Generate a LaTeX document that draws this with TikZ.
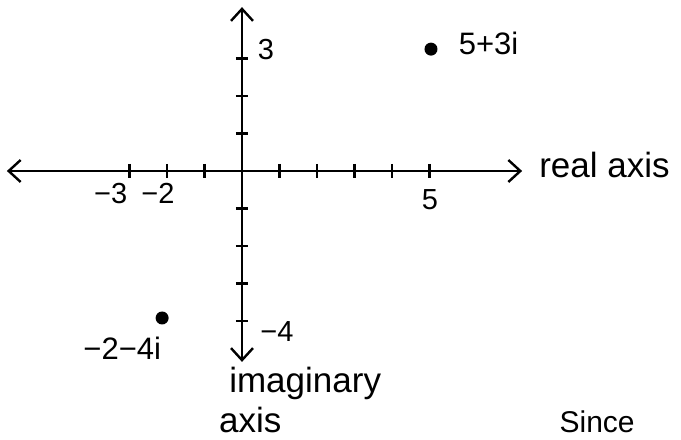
\documentclass[tikz,border=0pt]{standalone}
\usepackage{fontspec}
\setmainfont{Liberation Sans}
\usetikzlibrary{arrows.meta, positioning}

\begin{document}
\begin{tikzpicture}[x=37.5pt, y=37.5pt, line width=2.4pt,
    >={Straight Barb[length=12pt, width=22pt, line width=2.4pt]},
    dot/.style={circle, fill, inner sep=0pt, minimum size=13pt},
    num/.style={font=\fontsize{29}{31}\selectfont, inner sep=1pt},
    cplx/.style={font=\fontsize{31}{33}\selectfont, inner sep=1pt},
    word/.style={font=\fontsize{35}{37}\selectfont, inner sep=0pt}]
    \useasboundingbox (-6.4533,-7.1733) rectangle (11.7067,4.56);

    % Trục thực và trục ảo
    \coordinate (L) at (-6.27,0);
    \coordinate (R) at (7.47,0);
    \coordinate (T) at (0,4.37);
    \coordinate (B) at (0,-5.09);
    \draw[<->] (L) -- (R);
    \draw[<->] (B) -- (T);
    \node[word, right=16pt of R, yshift=6pt] (realLbl) {real axis};
    \node[word, anchor=north west] (imagLbl) at (-0.37,-5.2) {imaginary};
    \node[word, anchor=base west] (axisLbl) at (-0.64,-6.98) {axis};

    % Đánh dấu các mốc
    \foreach \x in {-3,-2,-1,1,2,3,4,5} {
        \draw (\x,0.19) -- (\x,-0.19);
    }
    \foreach \y in {-4,-3,-2,-1,1,2,3} {
        \draw (-0.16,\y) -- (0.16,\y);
    }
    \node[num] (xm3) at (-3.5,-0.59) {−3};
    \node[num] (xm2) at (-2.24,-0.59) {−2};
    \node[num] (x5) at (5.01,-0.77) {5};
    \node[num] (y3) at (0.64,3.23) {3};
    \node[num] (ym4) at (0.93,-4.27) {−4};

    % Các điểm
    \node[dot] (p1) at (5.04,3.25) {};
    \node[cplx, right=18pt of p1, yshift=6pt] (p1lbl) {5+3i};
    \node[dot] (p2) at (-2.13,-3.92) {};
    \node[cplx, anchor=east] (p2lbl) at (-2.1,-4.72) {−2−4i};

    \node[font=\fontsize{30}{32}\selectfont, inner sep=0pt, anchor=base]
        (since) at (9.47,-6.98) {Since};
\end{tikzpicture}
\end{document}
